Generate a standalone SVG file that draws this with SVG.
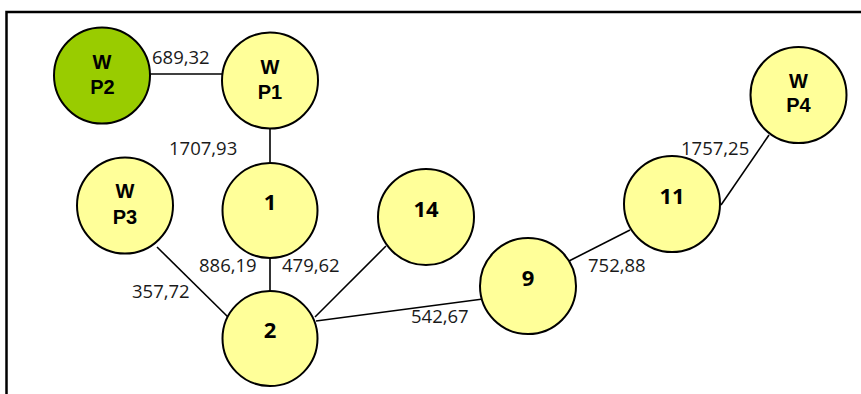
<svg xmlns="http://www.w3.org/2000/svg" width="861" height="394" viewBox="0 0 861 394">
<style>
.n{fill:#FFFF99;stroke:#000;stroke-width:2}
.g{fill:#99CC00;stroke:#000;stroke-width:2}
.e{stroke:#000;stroke-width:1.6;fill:none}
.w{font-family:"Liberation Sans",Arial,sans-serif;font-weight:bold;font-size:20px;text-anchor:middle;fill:#000}
.d{font-family:"Open Sans","Noto Sans",sans-serif;font-weight:bold;font-size:22px;text-anchor:middle;fill:#000}
.l{font-family:"Open Sans","Noto Sans",sans-serif;font-size:18.5px;fill:#1a1a1a}
</style>
<rect width="861" height="394" fill="#fff"/>
<path d="M6.5,394 V12 H861" fill="none" stroke="#000" stroke-width="2.5"/>
<g id="connectors">
<line class="e" x1="150" y1="74" x2="222" y2="74"/>
<line class="e" x1="270" y1="128" x2="270" y2="163"/>
<line class="e" x1="270" y1="258" x2="270" y2="291"/>
<line class="e" x1="157" y1="247" x2="229" y2="318"/>
<line class="e" x1="315" y1="317" x2="386" y2="246"/>
<line class="e" x1="316" y1="321" x2="483" y2="299"/>
<line class="e" x1="569" y1="261" x2="630" y2="230"/>
<line class="e" x1="721" y1="205" x2="769" y2="135"/>
<text class="l" x="152" y="64">689,32</text>
<text class="l" x="169" y="155">1707,93</text>
<text class="l" x="199" y="272">886,19</text>
<text class="l" x="282" y="272">479,62</text>
<text class="l" x="132" y="298">357,72</text>
<text class="l" x="411" y="323">542,67</text>
<text class="l" x="588" y="272">752,88</text>
<text class="l" x="681" y="155">1757,25</text>
</g>
<g id="WP2"><circle class="g" cx="102" cy="75.5" r="48"/><text class="w" x="102" y="68.5">W</text><text class="w" x="102.5" y="93.5">P2</text></g>
<g id="WP1"><circle class="n" cx="270" cy="80.5" r="48"/><text class="w" x="270" y="74">W</text><text class="w" x="270" y="99">P1</text></g>
<g id="WP3"><circle class="n" cx="125" cy="205.5" r="48"/><text class="w" x="125" y="198">W</text><text class="w" x="125" y="224">P3</text></g>
<g id="WP4"><circle class="n" cx="798.5" cy="95" r="48"/><text class="w" x="798.5" y="88">W</text><text class="w" x="798.5" y="112">P4</text></g>
<g id="n1"><circle class="n" cx="270" cy="210.5" r="47.5"/><text class="d" x="270" y="210">1</text></g>
<g id="n2"><circle class="n" cx="270" cy="338.5" r="47.5"/><text class="d" x="270" y="338">2</text></g>
<g id="n14"><circle class="n" cx="426" cy="217" r="48"/><text class="d" x="426" y="216.5">14</text></g>
<g id="n9"><circle class="n" cx="528" cy="286" r="48"/><text class="d" x="528" y="285.5">9</text></g>
<g id="n11"><circle class="n" cx="672" cy="204" r="48"/><text class="d" x="672" y="203.5">11</text></g>
</svg>
